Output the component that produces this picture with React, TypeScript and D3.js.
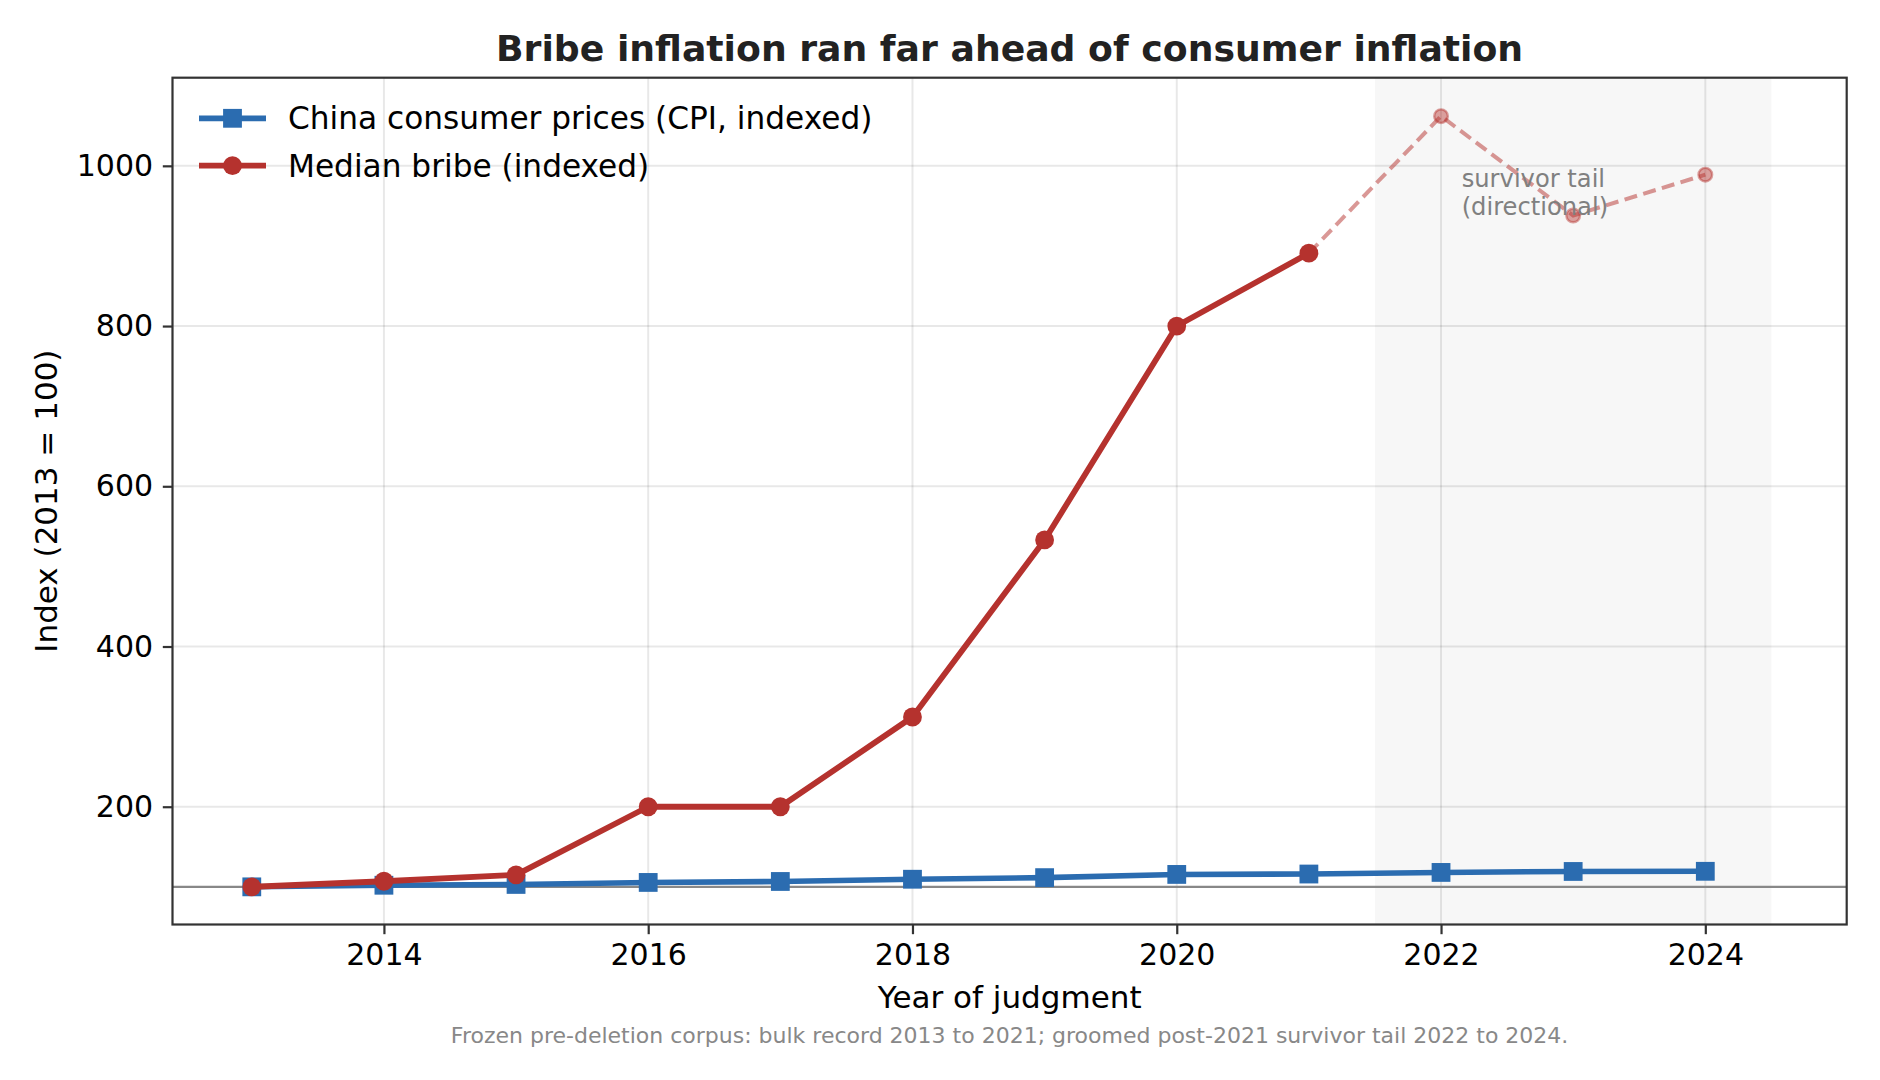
import { useEffect, useRef } from "react"
import * as d3 from "d3"

// values (index, 2013 = 100)
const years = [2013, 2014, 2015, 2016, 2017, 2018, 2019, 2020, 2021, 2022, 2023, 2024]
const cpiIndex = [100, 102, 103, 105.5, 106.7, 109.5, 111.5, 115.5, 116, 118, 119.2, 119.4]
const bribeIndex = [100, 107, 115, 200, 200, 312, 533, 800, 891, 1062, 938, 989]
const bulkEndYear = 2021
const tailSpan = [2021.5, 2024.5]
const xTicks = [2014, 2016, 2018, 2020, 2022, 2024]
const yTicks = [200, 400, 600, 800, 1000]

const BLUE = "#2b6cb0"
const RED = "#b5322e"
const FONT = "DejaVu Sans, sans-serif"

interface Pt {
  year: number
  value: number
}

export default function App() {
  const svgRef = useRef<SVGSVGElement>(null)

  useEffect(() => {
    document.body.style.margin = "0"
    if (!svgRef.current) return
    const svg = d3.select(svgRef.current)
    svg.selectAll("*").remove()

    const W = 1880
    const H = 1080
    const plot = { left: 172.5, right: 1846.7, top: 77.7, bottom: 924.5 }

    svg.attr("width", W).attr("height", H).style("background", "#fff")

    const x = d3.scaleLinear().domain([2012.4, 2025.07]).range([plot.left, plot.right])
    const y = d3.scaleLinear().domain([53, 1110]).range([plot.bottom, plot.top])

    const cpi: Pt[] = years.map((yr, i) => ({ year: yr, value: cpiIndex[i] }))
    const bribe: Pt[] = years.map((yr, i) => ({ year: yr, value: bribeIndex[i] }))
    const bulk = bribe.filter((d) => d.year <= bulkEndYear)
    const tail = bribe.filter((d) => d.year >= bulkEndYear)

    // shaded survivor-tail window
    svg
      .append("rect")
      .attr("x", x(tailSpan[0]))
      .attr("y", plot.top)
      .attr("width", x(tailSpan[1]) - x(tailSpan[0]))
      .attr("height", plot.bottom - plot.top)
      .attr("fill", "#f7f7f7")

    // grid
    const grid = svg.append("g").attr("stroke", "#000").attr("stroke-opacity", 0.09).attr("stroke-width", 2)
    xTicks.forEach((t) => {
      grid.append("line").attr("x1", x(t)).attr("x2", x(t)).attr("y1", plot.top).attr("y2", plot.bottom)
    })
    yTicks.forEach((t) => {
      grid.append("line").attr("x1", plot.left).attr("x2", plot.right).attr("y1", y(t)).attr("y2", y(t))
    })

    // 2013 baseline
    svg
      .append("line")
      .attr("x1", plot.left)
      .attr("x2", plot.right)
      .attr("y1", y(100))
      .attr("y2", y(100))
      .attr("stroke", "#888")
      .attr("stroke-width", 2.2)

    const line = d3
      .line<Pt>()
      .x((d) => x(d.year))
      .y((d) => y(d.value))

    // CPI line + squares
    svg
      .append("path")
      .datum(cpi)
      .attr("fill", "none")
      .attr("stroke", BLUE)
      .attr("stroke-width", 5.6)
      .attr("stroke-linejoin", "round")
      .attr("d", line)

    svg
      .selectAll(".cpi-dot")
      .data(cpi)
      .enter()
      .append("rect")
      .attr("class", "cpi-dot")
      .attr("x", (d) => x(d.year) - 9.4)
      .attr("y", (d) => y(d.value) - 9.4)
      .attr("width", 18.8)
      .attr("height", 18.8)
      .attr("fill", BLUE)

    // survivor tail (dashed, faded)
    svg
      .append("path")
      .datum(tail)
      .attr("fill", "none")
      .attr("stroke", RED)
      .attr("stroke-opacity", 0.5)
      .attr("stroke-width", 4)
      .attr("stroke-dasharray", "13,6.5")
      .attr("d", line)

    svg
      .selectAll(".tail-dot")
      .data(tail.slice(1))
      .enter()
      .append("circle")
      .attr("class", "tail-dot")
      .attr("cx", (d) => x(d.year))
      .attr("cy", (d) => y(d.value))
      .attr("r", 6.8)
      .attr("fill", RED)
      .attr("fill-opacity", 0.45)
      .attr("stroke", RED)
      .attr("stroke-opacity", 0.45)
      .attr("stroke-width", 2.4)

    // bulk bribe line + dots
    svg
      .append("path")
      .datum(bulk)
      .attr("fill", "none")
      .attr("stroke", RED)
      .attr("stroke-width", 5.8)
      .attr("stroke-linejoin", "round")
      .attr("d", line)

    svg
      .selectAll(".bribe-dot")
      .data(bulk)
      .enter()
      .append("circle")
      .attr("class", "bribe-dot")
      .attr("cx", (d) => x(d.year))
      .attr("cy", (d) => y(d.value))
      .attr("r", 9.4)
      .attr("fill", RED)

    // annotation
    const note = svg
      .append("text")
      .attr("font-family", FONT)
      .attr("font-size", 24.2)
      .attr("fill", "#808080")
    note.append("tspan").attr("x", 1461.7).attr("y", 186.5).text("survivor tail")
    note.append("tspan").attr("x", 1461.7).attr("y", 215).text("(directional)")

    // spines
    svg
      .append("rect")
      .attr("x", plot.left)
      .attr("y", plot.top)
      .attr("width", plot.right - plot.left)
      .attr("height", plot.bottom - plot.top)
      .attr("fill", "none")
      .attr("stroke", "#333")
      .attr("stroke-width", 2.2)

    // axes
    const xAxis = svg
      .append("g")
      .attr("transform", `translate(0,${plot.bottom})`)
      .call(d3.axisBottom(x).tickValues(xTicks).tickFormat(d3.format("d")).tickSize(9.7).tickPadding(9))
    const yAxis = svg
      .append("g")
      .attr("transform", `translate(${plot.left},0)`)
      .call(d3.axisLeft(y).tickValues(yTicks).tickFormat(d3.format("d")).tickSize(9.7).tickPadding(9.7))
    ;[xAxis, yAxis].forEach((g) => {
      g.select(".domain").remove()
      g.selectAll(".tick line").attr("stroke", "#333").attr("stroke-width", 2.2)
      g.selectAll(".tick text").attr("font-family", FONT).attr("font-size", 30).attr("fill", "#000")
    })

    // titles and labels
    svg
      .append("text")
      .attr("x", (plot.left + plot.right) / 2)
      .attr("y", 61)
      .attr("text-anchor", "middle")
      .attr("font-family", FONT)
      .attr("font-weight", "bold")
      .attr("font-size", 36.2)
      .attr("fill", "#222")
      .text("Bribe inflation ran far ahead of consumer inflation")

    svg
      .append("text")
      .attr("x", (plot.left + plot.right) / 2)
      .attr("y", 1008)
      .attr("text-anchor", "middle")
      .attr("font-family", FONT)
      .attr("font-size", 31)
      .attr("fill", "#000")
      .text("Year of judgment")

    svg
      .append("text")
      .attr("transform", `translate(57,${(plot.top + plot.bottom) / 2}) rotate(-90)`)
      .attr("text-anchor", "middle")
      .attr("font-family", FONT)
      .attr("font-size", 31)
      .attr("fill", "#000")
      .text("Index (2013 = 100)")

    svg
      .append("text")
      .attr("x", (plot.left + plot.right) / 2)
      .attr("y", 1043)
      .attr("text-anchor", "middle")
      .attr("font-family", FONT)
      .attr("font-size", 22)
      .attr("fill", "#888")
      .text("Frozen pre-deletion corpus: bulk record 2013 to 2021; groomed post-2021 survivor tail 2022 to 2024.")

    // legend
    const legend = svg.append("g")
    const rows = [
      { label: "China consumer prices (CPI, indexed)", color: BLUE, shape: "square", cy: 118.3 },
      { label: "Median bribe (indexed)", color: RED, shape: "circle", cy: 165.7 },
    ]
    rows.forEach((r) => {
      legend
        .append("line")
        .attr("x1", 199)
        .attr("x2", 266)
        .attr("y1", r.cy)
        .attr("y2", r.cy)
        .attr("stroke", r.color)
        .attr("stroke-width", 5.7)
      if (r.shape === "square") {
        legend
          .append("rect")
          .attr("x", 232.5 - 9.4)
          .attr("y", r.cy - 9.4)
          .attr("width", 18.8)
          .attr("height", 18.8)
          .attr("fill", r.color)
      } else {
        legend.append("circle").attr("cx", 232.5).attr("cy", r.cy).attr("r", 9.4).attr("fill", r.color)
      }
      legend
        .append("text")
        .attr("x", 288)
        .attr("y", r.cy + 11)
        .attr("font-family", FONT)
        .attr("font-size", 31.2)
        .attr("fill", "#000")
        .text(r.label)
    })
  }, [])

  return <svg ref={svgRef} style={{ display: "block" }} />
}
